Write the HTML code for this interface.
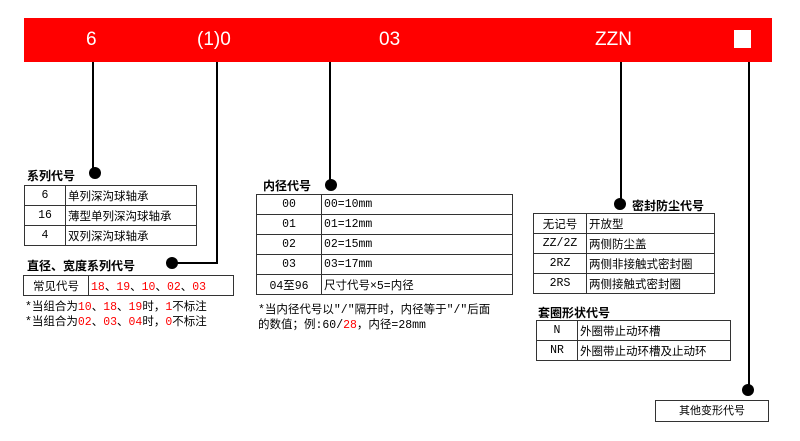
<!DOCTYPE html>
<html><head><meta charset="utf-8"><style>
body{margin:0;width:800px;height:441px;background:#fff;position:relative;overflow:hidden;font-family:"Liberation Sans","Noto Sans CJK SC",sans-serif;}
.a{position:absolute}
.bar{left:24px;top:18px;width:748px;height:44px;background:#ff0000}
.bt{color:#fff;font-size:19px;top:29px}
.v{position:absolute;width:1.5px;background:#000}
.h{position:absolute;height:1.5px;background:#000}
.dot{position:absolute;width:12px;height:12px;border-radius:50%;background:#000}
table{position:absolute;border-collapse:collapse;font-size:11.5px;font-family:"Liberation Mono","Noto Sans CJK SC",monospace}
td{border:1px solid #333;height:19px;padding:0 2px;white-space:nowrap}
td.c{text-align:center}
.t{position:absolute;font-weight:bold;font-size:12px;font-family:"Liberation Sans","Noto Sans CJK SC",sans-serif}
.n{position:absolute;font-size:11.5px;white-space:nowrap;font-family:"Liberation Mono","Noto Sans CJK SC",monospace}
.r{color:#f00}
</style></head><body>
<div class="a bar"></div>
<div class="a bt" style="left:86px">6</div>
<div class="a bt" style="left:197px">(1)0</div>
<div class="a bt" style="left:379px">03</div>
<div class="a bt" style="left:595px">ZZN</div>
<div class="a" style="left:734px;top:30px;width:17px;height:18px;background:#fff"></div>

<div class="v" style="left:92px;top:62px;height:110px"></div>
<div class="dot" style="left:89px;top:167px"></div>
<div class="v" style="left:216px;top:62px;height:201px"></div>
<div class="h" style="left:172px;top:262px;width:46px"></div>
<div class="dot" style="left:166px;top:257px"></div>
<div class="v" style="left:329px;top:62px;height:123px"></div>
<div class="dot" style="left:325px;top:179px"></div>
<div class="v" style="left:620px;top:62px;height:141px"></div>
<div class="dot" style="left:614px;top:198px"></div>
<div class="v" style="left:748px;top:62px;height:328px"></div>
<div class="dot" style="left:742px;top:384px"></div>

<div class="t" style="left:27px;top:167px">系列代号</div>
<table style="left:24px;top:185px;width:173px">
<tr><td class="c" style="width:36px">6</td><td>单列深沟球轴承</td></tr>
<tr><td class="c">16</td><td>薄型单列深沟球轴承</td></tr>
<tr><td class="c">4</td><td>双列深沟球轴承</td></tr></table>

<div class="t" style="left:27px;top:257px">直径、宽度系列代号</div>
<table style="left:23px;top:275px;width:211px">
<tr><td class="c" style="width:60px">常见代号</td><td><span class="r">18</span>、<span class="r">19</span>、<span class="r">10</span>、<span class="r">02</span>、<span class="r">03</span></td></tr></table>
<div class="n" style="left:25px;top:298px">*当组合为<span class="r">10</span>、<span class="r">18</span>、<span class="r">19</span>时，<span class="r">1</span>不标注</div>
<div class="n" style="left:25px;top:313px">*当组合为<span class="r">02</span>、<span class="r">03</span>、<span class="r">04</span>时，<span class="r">0</span>不标注</div>

<div class="t" style="left:263px;top:177px">内径代号</div>
<table style="left:256px;top:194px;width:257px">
<tr><td class="c" style="width:60px">00</td><td>00=10mm</td></tr>
<tr><td class="c">01</td><td>01=12mm</td></tr>
<tr><td class="c">02</td><td>02=15mm</td></tr>
<tr><td class="c">03</td><td>03=17mm</td></tr>
<tr><td class="c">04至96</td><td>尺寸代号×5=内径</td></tr></table>
<div class="n" style="left:258px;top:301px">*当内径代号以"/"隔开时，内径等于"/"后面</div>
<div class="n" style="left:258px;top:316px">的数值；例:60/<span class="r">28</span>，内径=28mm</div>

<div class="t" style="left:632px;top:197px">密封防尘代号</div>
<table style="left:533px;top:213px;width:182px">
<tr><td class="c" style="width:48px">无记号</td><td>开放型</td></tr>
<tr><td class="c">ZZ/2Z</td><td>两侧防尘盖</td></tr>
<tr><td class="c">2RZ</td><td>两侧非接触式密封圈</td></tr>
<tr><td class="c">2RS</td><td>两侧接触式密封圈</td></tr></table>

<div class="t" style="left:538px;top:304px">套圈形状代号</div>
<table style="left:536px;top:320px;width:195px">
<tr><td class="c" style="width:36px">N</td><td>外圈带止动环槽</td></tr>
<tr><td class="c">NR</td><td>外圈带止动环槽及止动环</td></tr></table>

<div class="a" style="left:655px;top:400px;width:112px;height:20px;border:1px solid #333;font-size:11px;text-align:center;line-height:20px">其他变形代号</div>
</body></html>
